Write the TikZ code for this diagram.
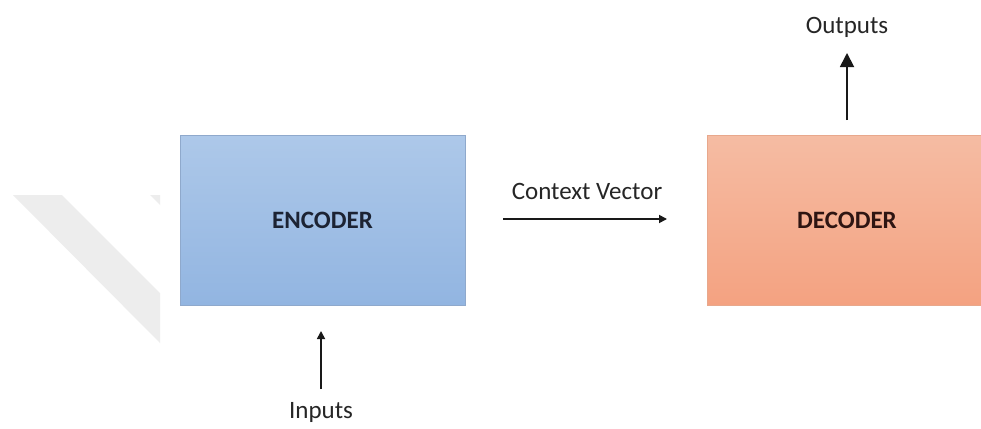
\documentclass[tikz,border=0pt]{standalone}
\usepackage{fontspec}
\setmainfont{Carlito}
\usetikzlibrary{arrows.meta}
\definecolor{encTop}{HTML}{ADC8E9}
\definecolor{encBot}{HTML}{92B5E1}
\definecolor{encEdge}{HTML}{8FA9CC}
\definecolor{encText}{HTML}{1C2333}
\definecolor{decTop}{HTML}{F5BCA3}
\definecolor{decBot}{HTML}{F4A281}
\definecolor{decEdge}{HTML}{E8A88C}
\definecolor{decText}{HTML}{2E1512}
\definecolor{txt}{HTML}{262626}
\definecolor{shadegrey}{HTML}{EDEDED}
\tikzset{
  block/.style={minimum width=285pt, minimum height=170pt, inner sep=0pt,
    line width=0.8pt, font=\fontsize{25}{30}\selectfont\bfseries},
  caption/.style={font=\fontsize{25}{30}\selectfont, text=txt, inner sep=0pt},
  flow/.style={line width=1.7pt, draw=black!90,
    -{Triangle[length=8pt,width=8pt]}},
  bigflow/.style={line width=1.8pt, draw=black!90,
    -{Triangle[length=14pt,width=14pt]}},
}
\begin{document}
\begin{tikzpicture}[x=1pt,y=-1pt]
  \useasboundingbox (0,0) rectangle (981,428);
  \clip (0,0) rectangle (981,428);
  \fill[white] (0,0) rectangle (981,428);

  % faint diagonal band on the left
  \fill[shadegrey] (13,195) -- (62,195) -- (160,293) -- (160,343) -- cycle;
  \fill[shadegrey] (150,195) -- (160,195) -- (160,205) -- cycle;

  % blocks
  \node[block, top color=encTop, bottom color=encBot, draw=encEdge,
        text=encText] (enc) at (322.5,220) {ENCODER};
  \node[block, minimum width=280pt, top color=decTop, bottom color=decBot,
        draw=decEdge, text=decText] (dec) at (847,220) {DECODER};

  % labels
  \node[caption] (cvlab) at (587,191) {Context Vector};
  \node[caption] (outlab) at (847,27) {Outputs};
  \node[caption] (inlab) at (321,412) {Inputs};

  % connector end points
  \coordinate (cvA) at (503,219);
  \coordinate (cvB) at (667,219);
  \coordinate (outA) at (847,120);
  \coordinate (outB) at (847,53);
  \coordinate (inA) at (321,389);
  \coordinate (inB) at (321,331);

  % arrows
  \draw[flow] (cvA) -- (cvB);
  \draw[bigflow] (outA) -- (outB);
  \draw[flow] (inA) -- (inB);
\end{tikzpicture}
\end{document}
